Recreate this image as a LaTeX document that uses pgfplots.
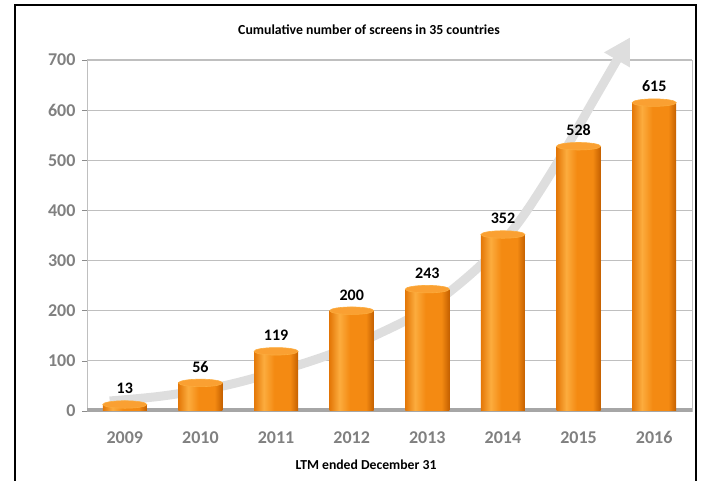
\documentclass[border=0pt]{standalone}
\usepackage{fontspec}
\setmainfont{Carlito}
\usepackage{pgfplots}
\pgfplotsset{compat=1.18}
\usetikzlibrary{arrows.meta}
\definecolor{oA}{RGB}{228,120,8}
\definecolor{oB}{RGB}{252,172,62}
\definecolor{oC}{RGB}{244,138,18}
\definecolor{oD}{RGB}{196,96,0}
\definecolor{capc}{RGB}{250,160,50}
\pgfdeclarehorizontalshading{cyl}{100bp}{color(0bp)=(oA); color(25bp)=(oA); color(36bp)=(oB); color(48bp)=(oC); color(66bp)=(oC); color(75bp)=(oD); color(100bp)=(oD)}
\pgfplotsset{cylbar/.style={ybar, bar shift=0pt, bar width=44bp, draw=none, shade, shading=cyl,
  nodes near coords,
  every node near coord/.append style={font=\bfseries\fontsize{16bp}{18bp}\selectfont, text=black, yshift=7bp}}}
\begin{document}
\begin{tikzpicture}[x=1bp,y=1bp]
\useasboundingbox (0,0) rectangle (703,481);
\draw[line width=2bp] (15,-3) -- (15,476) -- (696,476) -- (696,-3);
\begin{axis}[
  at={(87bp,70bp)}, anchor=south west, scale only axis,
  width=605bp, height=351bp,
  xmin=-0.5, xmax=7.5, ymin=0, ymax=700,
  ytick={0,100,...,700},
  xtick={0,...,7}, xticklabels={2009,2010,2011,2012,2013,2014,2015,2016},
  axis line style={draw=black!25, line width=0.8bp},
  ymajorgrids, grid style={draw=black!25, line width=1.2bp},
  tick align=outside, ytick pos=left, xtick pos=bottom,
  major tick length=5bp,
  xtick style={draw=none},
  ytick style={draw=black!45, line width=0.6bp},
  tick label style={font=\bfseries\fontsize{18bp}{20bp}\selectfont, text=black!50},
  yticklabel style={xshift=-3bp},
  xticklabel style={yshift=-12bp},
  /pgf/number format/assume math mode=true,
  clip=false,
]
\addplot[smooth, tension=0.55, line width=9bp, draw=black!13, -{Triangle[width=28bp,length=26bp]}]
  coordinates {(-0.2,20) (0.5,30) (1.3,50) (2.0,78) (2.7,112) (3.3,150) (4.0,205) (4.7,290) (5.2,375) (5.7,490) (6.2,620) (6.68,745)};
\addplot[draw=none, fill=black!35] coordinates {(-0.5,-2) (7.5,-2) (7.5,6) (-0.5,6)} -- cycle;
\addplot[cylbar] coordinates {(0,13)};
\addplot[cylbar] coordinates {(1,56)};
\addplot[cylbar] coordinates {(2,119)};
\addplot[cylbar] coordinates {(3,200)};
\addplot[cylbar] coordinates {(4,243)};
\addplot[cylbar] coordinates {(5,352)};
\addplot[cylbar] coordinates {(6,528)};
\addplot[cylbar] coordinates {(7,615)};
\addplot[only marks, mark=*, mark size=22bp, mark options={yscale=0.17, fill=capc, draw=oB, line width=0.6bp}]
  coordinates {(0,13) (1,56) (2,119) (3,200) (4,243) (5,352) (6,528) (7,615)};
\end{axis}
\node[font=\bfseries\fontsize{13.8bp}{15bp}\selectfont] at (369,451) {Cumulative number of screens in 35 countries};
\node[font=\bfseries\fontsize{13.7bp}{15bp}\selectfont] at (366,16) {LTM ended December 31};
\end{tikzpicture}
\end{document}
